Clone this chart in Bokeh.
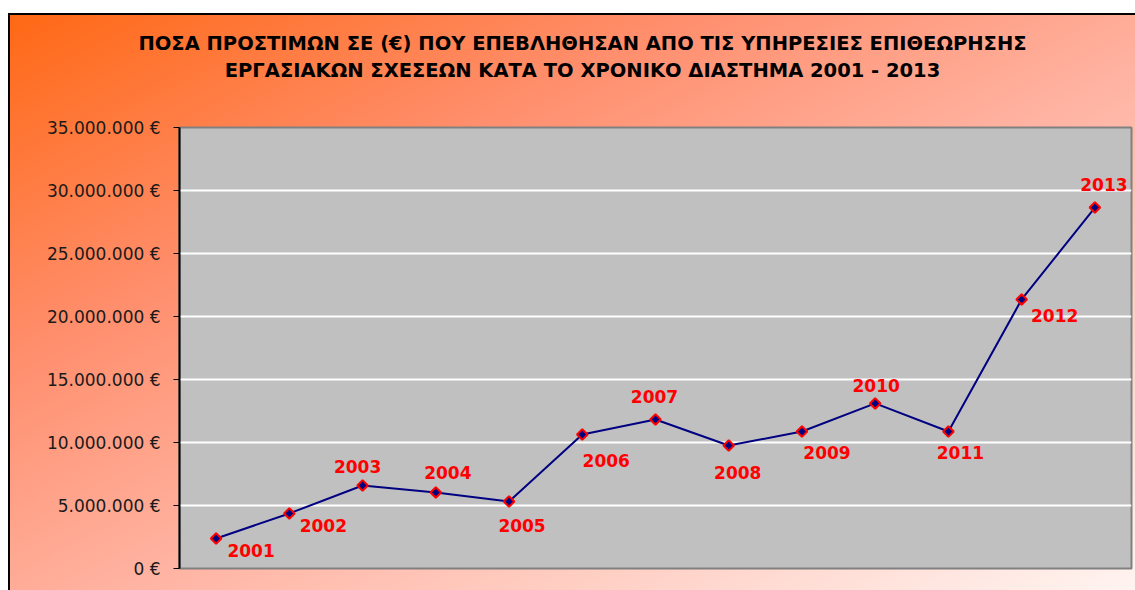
import math
from bokeh.plotting import figure
from bokeh.models import FixedTicker, Label, ColumnDataSource, Range1d
from bokeh.core.properties import value
from bokeh.embed import file_html
from bokeh.resources import INLINE

# ---- data ----
YEARS = ["2001", "2002", "2003", "2004", "2005", "2006", "2007",
         "2008", "2009", "2010", "2011", "2012", "2013"]
FINES = [2380000, 4370000, 6590000, 6030000, 5320000, 10630000, 11830000,
         9760000, 10870000, 13100000, 10870000, 21350000, 28650000]
Y_TICKS = [0, 5000000, 10000000, 15000000, 20000000, 25000000, 30000000, 35000000]
Y_TICK_LABELS = ["0 €", "5.000.000 €", "10.000.000 €", "15.000.000 €",
                 "20.000.000 €", "25.000.000 €", "30.000.000 €", "35.000.000 €"]
TITLE_LINES = ["ΠΟΣΑ ΠΡΟΣΤΙΜΩΝ ΣΕ (€) ΠΟΥ ΕΠΕΒΛΗΘΗΣΑΝ ΑΠΟ ΤΙΣ ΥΠΗΡΕΣΙΕΣ ΕΠΙΘΕΩΡΗΣΗΣ",
               "ΕΡΓΑΣΙΑΚΩΝ ΣΧΕΣΕΩΝ ΚΑΤΑ ΤΟ ΧΡΟΝΙΚΟ ΔΙΑΣΤΗΜΑ 2001 - 2013"]

# ---- data-label placement (pixels, screen-down positive) ----
LABEL_DX = [35, 34, -5, 12, 13, 24, -1, 9, 25, 1, 12, 33, 9]
LABEL_DY = [12, 12, -19, -20, 24, 26, -23, 27, 21, -18, 21, 16, -23]

source = ColumnDataSource(dict(year=YEARS, fine=FINES, dx=LABEL_DX, dy=LABEL_DY))

p = figure(x_range=YEARS, y_range=Range1d(0, 35000000),
           width=1135, height=590,
           min_border_left=179, min_border_right=4,
           min_border_top=127, min_border_bottom=22,
           output_backend="svg", toolbar_location=None)

p.styles = {
    "background": (
        "linear-gradient(#000,#000) 8px 13px / 100% 2px no-repeat, "
        "linear-gradient(#000,#000) 8px 13px / 2px 100% no-repeat, "
        "linear-gradient(to bottom right, #FF6814 0%, #FF8E6C 30%, #FFB3A2 55%, "
        "#FFD3C9 78%, #FFF4F1 100%) 8px 13px / calc(100% - 8px) calc(100% - 13px) no-repeat, "
        "#FFFFFF"
    )
}

p.border_fill_color = None
p.background_fill_color = "#C0C0C0"
p.outline_line_color = "#808080"
p.outline_line_width = 2

p.xgrid.grid_line_color = None
p.ygrid.grid_line_color = "#FFFFFF"
p.ygrid.grid_line_width = 2
p.ygrid.ticker = FixedTicker(ticks=Y_TICKS)

p.xaxis.visible = False

ya = p.yaxis[0]
ya.ticker = FixedTicker(ticks=Y_TICKS)
ya.major_label_overrides = {t: l for t, l in zip(Y_TICKS, Y_TICK_LABELS)}
ya.axis_line_color = "#000000"
ya.axis_line_width = 2
ya.major_tick_line_color = "#000000"
ya.major_tick_line_width = 1
ya.major_tick_out = 6
ya.major_tick_in = 0
ya.minor_tick_line_color = None
ya.major_label_standoff = 13
ya.major_label_text_font = "DejaVu Sans"
ya.major_label_text_font_size = "17px"
ya.major_label_text_color = "#1A1A1A"

p.line(x="year", y="fine", source=source, line_color="#000080", line_width=2)
p.scatter(x="year", y="fine", source=source, marker="square", angle=math.pi / 4,
          size=7.5, fill_color="#000080", line_color="#FF0000", line_width=2)

p.text(x="year", y="fine", text="year", source=source,
       x_offset="dx", y_offset="dy",
       text_align="center", text_baseline="middle",
       text_font=value("DejaVu Sans"), text_font_style="bold",
       text_font_size="17px", text_color="#FF0000")

for line, ypos in zip(TITLE_LINES, [43, 70]):
    p.add_layout(Label(x=582, y=ypos, x_units="canvas", y_units="canvas",
                       text=line, text_align="center", text_baseline="middle",
                       text_font="DejaVu Sans", text_font_style="bold",
                       text_font_size="19.5px", text_color="#000000"), "above")

open("out.html", "w").write(file_html(p, INLINE))
